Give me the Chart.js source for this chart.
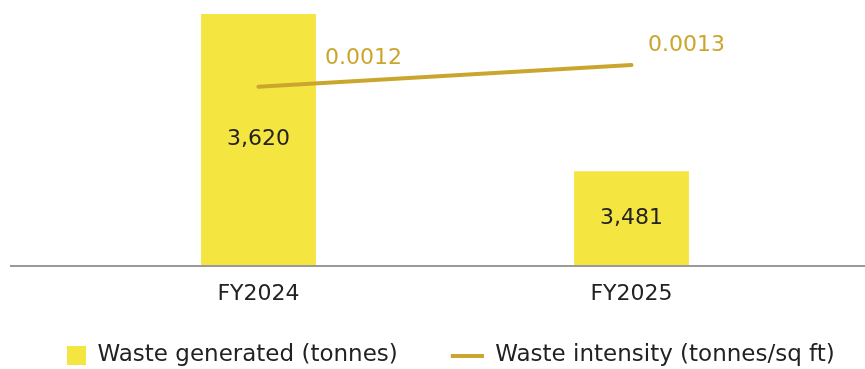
<!DOCTYPE html>
<html>
<head>
<meta charset="utf-8">
<script src="https://cdn.jsdelivr.net/npm/chart.js@4.4.1/dist/chart.umd.min.js"></script>
<style>
  html, body { margin: 0; padding: 0; background: #fff; }
  #wrap { width: 865px; height: 369px; position: relative; }
</style>
</head>
<body>
<div id="wrap"><canvas id="wasteChart"></canvas></div>
<script>
// === DATA ===
const years = ['FY2024', 'FY2025'];
const wasteGenerated = [3620, 3481];
const wasteIntensity = [0.0012, 0.0013];
const seriesNames = ['Waste generated (tonnes)', 'Waste intensity (tonnes/sq ft)'];

// === STYLE ===
const barColor = '#F4E541';
const lineColor = '#CBA62E';
const textColor = '#222222';
const fontFamily = "'DejaVu Sans', sans-serif";
const lineLabelOffsets = [[105, -29], [55, -20]];

const fmtThousands = v => String(v).replace(/\B(?=(\d{3})+(?!\d))/g, ',');

// legend icons (square for bars, short line for intensity)
const ICON_W = 76;
function makeIcon(kind) {
  const c = document.createElement('canvas');
  c.width = ICON_W;
  c.height = 19;
  const g = c.getContext('2d');
  if (kind === 'bar') {
    g.fillStyle = barColor;
    g.fillRect(ICON_W - 19, 0, 19, 19);
  } else {
    g.fillStyle = lineColor;
    g.fillRect(ICON_W - 33, 8, 33, 4);
  }
  return c;
}
const legendIcons = [makeIcon('bar'), makeIcon('line')];

// === LABELS + AXIS LINE ===
const valueLabels = {
  id: 'valueLabels',
  beforeDatasetsDraw(chart) {
    const { ctx, chartArea } = chart;
    ctx.save();
    ctx.strokeStyle = '#9a9a9a';
    ctx.lineWidth = 2;
    ctx.beginPath();
    ctx.moveTo(10, chartArea.bottom + 1);
    ctx.lineTo(chart.width, chartArea.bottom + 1);
    ctx.stroke();
    ctx.restore();
  },
  afterDatasetsDraw(chart) {
    const { ctx, chartArea, scales } = chart;
    ctx.save();
    ctx.font = `22px ${fontFamily}`;
    ctx.textAlign = 'center';
    ctx.textBaseline = 'middle';

    years.forEach((yr, i) => {
      const x = scales.x.getPixelForValue(i);
      const top = scales.y.getPixelForValue(wasteGenerated[i]);
      ctx.fillStyle = textColor;
      ctx.fillText(fmtThousands(wasteGenerated[i]), x, (top + chartArea.bottom) / 2);
    });

    const points = chart.getDatasetMeta(1).data;
    points.forEach((pt, i) => {
      ctx.fillStyle = lineColor;
      ctx.fillText(wasteIntensity[i].toFixed(4), pt.x + lineLabelOffsets[i][0], pt.y + lineLabelOffsets[i][1]);
    });
    ctx.restore();
  }
};

// === CHART ===
const ctx = document.getElementById('wasteChart').getContext('2d');
new Chart(ctx, {
  data: {
    labels: years,
    datasets: [
      {
        type: 'bar',
        label: seriesNames[0],
        data: wasteGenerated,
        backgroundColor: barColor,
        yAxisID: 'y',
        categoryPercentage: 1,
        barPercentage: 0.308,
        order: 1
      },
      {
        type: 'line',
        label: seriesNames[1],
        data: wasteIntensity,
        borderColor: lineColor,
        borderWidth: 4,
        borderCapStyle: 'round',
        pointRadius: 0,
        yAxisID: 'y1',
        order: 0
      }
    ]
  },
  plugins: [valueLabels],
  options: {
    responsive: true,
    maintainAspectRatio: false,
    animation: false,
    layout: { padding: { top: 14, left: 0, right: 0, bottom: -8 } },
    plugins: {
      tooltip: { enabled: false },
      legend: {
        position: 'bottom',
        align: 'start',
        labels: {
          usePointStyle: true,
          pointStyleWidth: ICON_W,
          padding: 10,
          color: textColor,
          font: { size: 23, family: fontFamily },
          generateLabels: chart => chart.data.datasets.map((ds, i) => ({
            text: ds.label,
            pointStyle: legendIcons[i],
            fillStyle: 'transparent',
            strokeStyle: 'transparent',
            lineWidth: 0,
            fontColor: textColor,
            hidden: false,
            datasetIndex: i
          }))
        }
      }
    },
    scales: {
      x: {
        grid: { display: false, drawTicks: false },
        border: { display: false },
        ticks: { color: textColor, padding: 16, font: { size: 22, family: fontFamily } },
        afterFit: s => { s.height = 69; }
      },
      y: {
        position: 'left',
        min: 3398,
        max: 3620,
        grid: { display: false, drawTicks: false },
        border: { display: false },
        ticks: { display: false },
        afterFit: s => { s.width = 72; }
      },
      y1: {
        position: 'right',
        min: 0.00038,
        max: 0.001535,
        grid: { display: false, drawTicks: false },
        border: { display: false },
        ticks: { display: false },
        afterFit: s => { s.width = 47; }
      }
    }
  }
});
</script>
</body>
</html>
